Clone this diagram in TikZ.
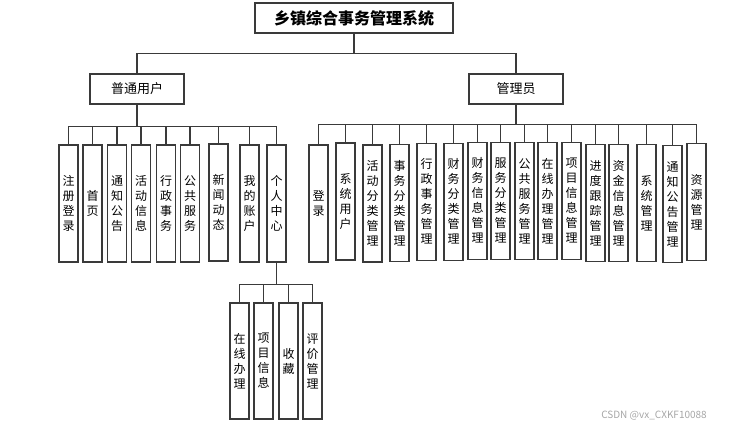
\documentclass[tikz,border=0pt]{standalone}
\usepackage{fontspec}
\newfontfamily\cjk{Noto Sans CJK SC}
\usetikzlibrary{positioning}
\definecolor{edge}{HTML}{3A3A3A}

\begin{document}
\begin{tikzpicture}[
      x=1pt, y=-1pt,
      titlebox/.style={rectangle, draw=edge, line width=1.2pt, minimum width=198pt,
                  minimum height=30pt, inner sep=0pt, font=\cjk\fontsize{16}{18}\selectfont\bfseries},
      rolebox/.style={rectangle, draw=edge, line width=1.2pt, minimum width=94pt,
                  minimum height=30pt, inner sep=0pt, font=\cjk\fontsize{13}{15}\selectfont},
      leaf/.style={rectangle, draw=edge, line width=1.2pt, minimum width=19pt,
                  minimum height=117pt, inner sep=0pt, align=center,
                  font=\cjk\fontsize{12}{15}\selectfont},
      link/.style={draw=edge, line width=1.2pt}
    ]
      \useasboundingbox (0,0) rectangle (735,431);
      \node[titlebox] (sys) at (354,18) {乡镇综合事务管理系统};
      \node[rolebox] (user) at (137,89) {普通用户};
      \node[rolebox] (admin) at (516,89) {管理员};

      % user side
      \node[leaf] (u1) at (68.5,203.5) {注\\册\\登\\录};
      \node[leaf] (u2) at (92.5,203.5) {首\\页};
      \node[leaf] (u3) at (117,203.5) {通\\知\\公\\告};
      \node[leaf] (u4) at (141,203.5) {活\\动\\信\\息};
      \node[leaf] (u5) at (166,203.5) {行\\政\\事\\务};
      \node[leaf] (u6) at (190,203.5) {公\\共\\服\\务};
      \node[leaf] (u7) at (218.5,202.5) {新\\闻\\动\\态};
      \node[leaf] (u8) at (249.5,203.5) {我\\的\\账\\户};
      \node[leaf] (u9) at (276.5,203.5) {个\\人\\中\\心};

      % personal center
      \node[leaf, minimum height=116pt] (p1) at (239.5,361) {在\\线\\办\\理};
      \node[leaf, minimum height=116pt] (p2) at (263.5,361) {项\\目\\信\\息};
      \node[leaf, minimum height=116pt] (p3) at (288.5,361) {收\\藏};
      \node[leaf, minimum height=116pt] (p4) at (312.5,361) {评\\价\\管\\理};

      % admin side
      \node[leaf] (a1) at (318.5,203.5) {登\\录};
      \node[leaf] (a2) at (345.5,201.5) {系\\统\\用\\户};
      \node[leaf] (a3) at (372.5,203.5) {活\\动\\分\\类\\管\\理};
      \node[leaf] (a4) at (399.5,203) {事\\务\\分\\类\\管\\理};
      \node[leaf] (a5) at (426.5,201.7) {行\\政\\事\\务\\管\\理};
      \node[leaf] (a6) at (453.5,201.7) {财\\务\\分\\类\\管\\理};
      \node[leaf] (a7) at (477.5,200.7) {财\\务\\信\\息\\管\\理};
      \node[leaf] (a8) at (500.5,200.7) {服\\务\\分\\类\\管\\理};
      \node[leaf] (a9) at (524.5,201) {公\\共\\服\\务\\管\\理};
      \node[leaf] (a10) at (547.5,201) {在\\线\\办\\理\\管\\理};
      \node[leaf] (a11) at (571.5,201) {项\\目\\信\\息\\管\\理};
      \node[leaf] (a12) at (595.5,203.3) {进\\度\\跟\\踪\\管\\理};
      \node[leaf] (a13) at (618.5,203.3) {资\\金\\信\\息\\管\\理};
      \node[leaf] (a14) at (646.5,203.3) {系\\统\\管\\理};
      \node[leaf] (a15) at (672.5,204.3) {通\\知\\公\\告\\管\\理};
      \node[leaf] (a16) at (696.5,202.3) {资\\源\\管\\理};

      \node[font=\cjk\fontsize{10}{12}\selectfont, text=black!35] (mark) at (654,416) {CSDN @vx\_CXKF10088};

      \draw[link] (sys.south) -- ++(0,20) -| (user.north);
      \draw[link] (sys.south) -- ++(0,20) -| (admin.north);

      \draw[link] (user.south) -- ++(0,22) -| (u1.north);
      \draw[link] (user.south) -- ++(0,22) -| (u2.north);
      \draw[link] (user.south) -- ++(0,22) -| (u3.north);
      \draw[link] (user.south) -- ++(0,22) -| (u4.north);
      \draw[link] (user.south) -- ++(0,22) -| (u5.north);
      \draw[link] (user.south) -- ++(0,22) -| (u6.north);
      \draw[link] (user.south) -- ++(0,22) -| (u7.north);
      \draw[link] (user.south) -- ++(0,22) -| (u8.north);
      \draw[link] (user.south) -- ++(0,22) -| (u9.north);

      \draw[link] (u9.south) -- ++(0,22) -| (p1.north);
      \draw[link] (u9.south) -- ++(0,22) -| (p2.north);
      \draw[link] (u9.south) -- ++(0,22) -| (p3.north);
      \draw[link] (u9.south) -- ++(0,22) -| (p4.north);

      \draw[link] (admin.south) -- ++(0,20) -| (a1.north);
      \draw[link] (admin.south) -- ++(0,20) -| (a2.north);
      \draw[link] (admin.south) -- ++(0,20) -| (a3.north);
      \draw[link] (admin.south) -- ++(0,20) -| (a4.north);
      \draw[link] (admin.south) -- ++(0,20) -| (a5.north);
      \draw[link] (admin.south) -- ++(0,20) -| (a6.north);
      \draw[link] (admin.south) -- ++(0,20) -| (a7.north);
      \draw[link] (admin.south) -- ++(0,20) -| (a8.north);
      \draw[link] (admin.south) -- ++(0,20) -| (a9.north);
      \draw[link] (admin.south) -- ++(0,20) -| (a10.north);
      \draw[link] (admin.south) -- ++(0,20) -| (a11.north);
      \draw[link] (admin.south) -- ++(0,20) -| (a12.north);
      \draw[link] (admin.south) -- ++(0,20) -| (a13.north);
      \draw[link] (admin.south) -- ++(0,20) -| (a14.north);
      \draw[link] (admin.south) -- ++(0,20) -| (a15.north);
      \draw[link] (admin.south) -- ++(0,20) -| (a16.north);
    \end{tikzpicture}
\end{document}
